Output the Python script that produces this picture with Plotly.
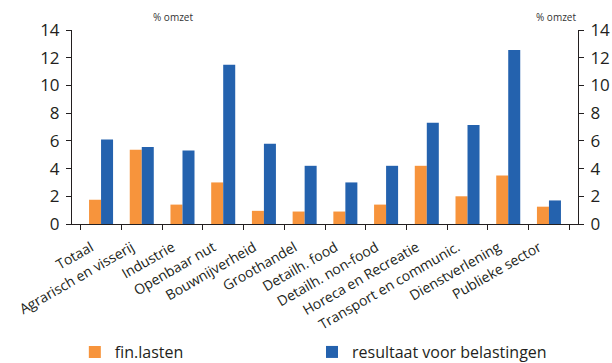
import plotly.graph_objects as go

categories = [
    "Totaal", "Agrarisch en visserij", "Industrie", "Openbaar nut",
    "Bouwnijverheid", "Groothandel", "Detailh. food", "Detailh. non-food",
    "Horeca en Recreatie", "Transport en communic.", "Dienstverlening",
    "Publieke sector",
]
fin_lasten = [1.75, 5.35, 1.4, 3.0, 0.95, 0.9, 0.9, 1.4, 4.2, 2.0, 3.5, 1.25]
resultaat = [6.1, 5.55, 5.3, 11.5, 5.8, 4.2, 3.0, 4.2, 7.3, 7.15, 12.55, 1.7]
y_ticks = [0, 2, 4, 6, 8, 10, 12, 14]

ORANGE = "#F7943C"
BLUE = "#2462AE"
TXT = "#231F20"
FONT = "Open Sans"

fig = go.Figure()
fig.add_trace(go.Bar(x=categories, y=fin_lasten, name="fin.lasten",
                     marker=dict(color=ORANGE, line=dict(width=0)),
                     legend="legend"))
fig.add_trace(go.Bar(x=categories, y=resultaat, name="resultaat voor belastingen",
                     marker=dict(color=BLUE, line=dict(width=0)),
                     legend="legend2"))
# invisible trace so the right-hand axis is drawn
fig.add_trace(go.Scatter(x=categories, y=resultaat, yaxis="y2", mode="markers",
                         marker=dict(opacity=0), showlegend=False, hoverinfo="skip"))

axis_common = dict(
    range=[0, 14], tickvals=y_ticks, showgrid=False, zeroline=False,
    showline=True, linecolor=TXT, linewidth=1, ticks="outside", ticklen=5,
    tickcolor=TXT, tickfont=dict(family=FONT, size=17, color=TXT),
    ticklabelstandoff=3, automargin=False,
)

legend_common = dict(
    orientation="h", xanchor="left", y=-0.66, yanchor="middle",
    font=dict(family=FONT, size=16, color=TXT), itemclick=False,
    bgcolor="rgba(0,0,0,0)", borderwidth=0,
)

fig.update_layout(
    width=612, height=363,
    margin=dict(l=72, r=34, t=30, b=138.5, autoexpand=False),
    paper_bgcolor="white", plot_bgcolor="white",
    barmode="group", bargap=0.41, bargroupgap=0,
    font=dict(family=FONT, color=TXT),
    xaxis=dict(
        showline=True, linecolor=TXT, linewidth=1, ticks="outside",
        tickson="boundaries", ticklen=5, tickcolor=TXT, showgrid=False,
        tickangle=-30, tickfont=dict(family=FONT, size=14, color=TXT),
        ticklabelstandoff=9, ticklabelshift=-10, automargin=False,
    ),
    yaxis=dict(**axis_common, side="left"),
    yaxis2=dict(**axis_common, side="right", overlaying="y"),
    legend=dict(**legend_common, x=0.0056),
    legend2=dict(**legend_common, x=0.4743),
    annotations=[
        dict(text="% omzet", xref="paper", yref="paper", x=0.2, y=1.0,
             xanchor="center", yanchor="bottom", yshift=4, showarrow=False,
             font=dict(family=FONT, size=10, color="#333333")),
        dict(text="% omzet", xref="paper", yref="paper", x=1.0, y=1.0,
             xanchor="right", yanchor="bottom", yshift=4, showarrow=False,
             font=dict(family=FONT, size=10, color="#333333")),
    ],
)

fig.write_html("out.html")
